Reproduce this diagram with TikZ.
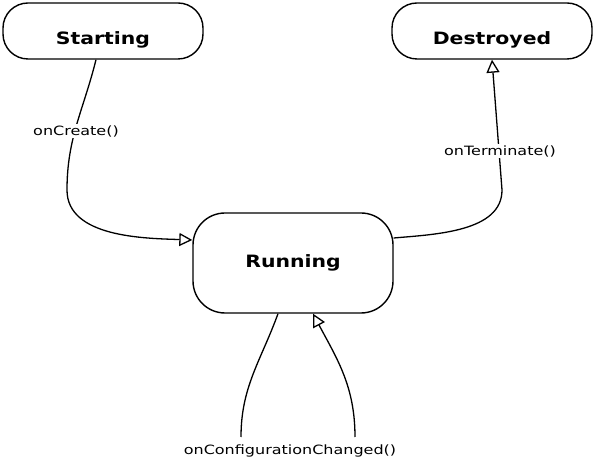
\documentclass[tikz,border=0pt]{standalone}
\usepackage{fontspec}
\setmainfont{DejaVu Sans}
\newfontfamily\hand[FakeStretch=1.25]{DejaVu Sans}
\newfontfamily\handb[FakeStretch=1.2]{DejaVu Sans Bold}
\usetikzlibrary{arrows.meta}
\tikzset{
  state/.style={draw, line width=1.4pt, minimum width=200pt, inner sep=0pt},
  title/.style={font=\handb\fontsize{17}{20}\selectfont},
  trans/.style={line width=1.3pt, -{Triangle[open, length=13pt, width=13pt, line width=1.3pt]}},
  plain/.style={line width=1.3pt},
  lbl/.style={fill=white, inner sep=1.5pt, font=\hand\fontsize{12.8}{15}\selectfont}
}
\begin{document}
\begin{tikzpicture}[x=1pt,y=1pt]
\useasboundingbox (0,0) rectangle (594,465);
\node[state, minimum height=56pt, rounded corners=25pt] (start) at (103,434) {};
\node[title] (startt) at ([yshift=-9pt]start.center) {Starting};
\node[state, minimum height=56pt, rounded corners=25pt] (dest) at (492,434) {};
\node[title] (destt) at ([yshift=-9pt]dest.center) {Destroyed};
\node[state, minimum height=100pt, rounded corners=32pt, title] (run) at (293,202) {Running};
% onCreate
\draw[trans] ([xshift=-7pt]start.south) to[out=-104,in=90] (67,275) to[out=-90,in=178,looseness=0.9] ([yshift=23pt]run.west);
\node[lbl] (lc) at (76,334) {onCreate()};
% onTerminate
\draw[trans] ([yshift=25pt]run.east) to[out=5,in=-90,looseness=0.9] (502,275) -- (dest.south);
\node[lbl] (lt) at (500,314) {onTerminate()};
% onConfigurationChanged
\coordinate (cl) at (241,28);
\coordinate (cr) at (355,28);
\draw[plain] ([xshift=-15pt]run.south) to[out=-110,in=90] (cl);
\draw[trans] (cr) to[out=90,in=-62] ([xshift=20pt]run.south);
\node[lbl] (lcc) at (290,14) {onConfigurationChanged()};
\end{tikzpicture}
\end{document}
